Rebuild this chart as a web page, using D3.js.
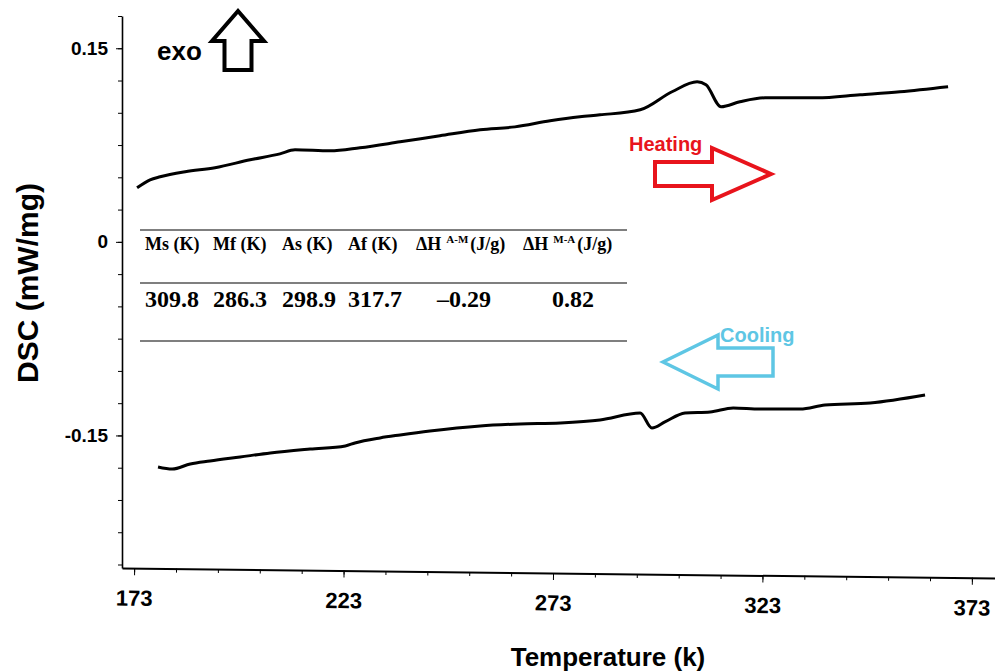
<!DOCTYPE html>
<html>
<head>
<meta charset="utf-8">
<script src="https://cdn.jsdelivr.net/npm/d3@7"></script>
<style>
  html, body { margin: 0; padding: 0; background: #fff; }
  svg { display: block; }
</style>
</head>
<body>
<div id="chart"></div>
<script>
// heating curve (upper)
const heatT = [173.7, 176.8, 179.2, 185.2, 192.3, 200.7, 207.8, 211.4, 219.8, 226.9, 236.5, 246.0, 255.6, 263.9, 272.3, 279.4, 284.2, 293.8, 301.4, 307.4, 309.5, 313.1, 317.6, 323.6, 336.0, 346.3, 355.8, 367.3];
const heatV = [0.0419, 0.0481, 0.0504, 0.0543, 0.0574, 0.0636, 0.0682, 0.0713, 0.0705, 0.0729, 0.0775, 0.0822, 0.0868, 0.0891, 0.0938, 0.0969, 0.0984, 0.1023, 0.1163, 0.1240, 0.1217, 0.1047, 0.1085, 0.1116, 0.1116, 0.1140, 0.1163, 0.1202];
// cooling curve (lower)
const coolT = [178.7, 182.1, 186.4, 191.1, 198.3, 205.5, 215.0, 223.4, 225.7, 231.7, 236.5, 243.6, 255.6, 265.1, 274.7, 284.2, 293.8, 296.6, 299.7, 304.5, 310.5, 316.0, 322.4, 332.0, 337.9, 348.7, 361.8];
const coolV = [-0.1744, -0.1760, -0.1721, -0.1698, -0.1667, -0.1636, -0.1605, -0.1581, -0.1558, -0.1519, -0.1496, -0.1465, -0.1426, -0.1411, -0.1403, -0.1380, -0.1326, -0.1442, -0.1395, -0.1326, -0.1318, -0.1287, -0.1295, -0.1295, -0.1264, -0.1248, -0.1186];

const xTicks = [173, 223, 273, 323, 373];
const xMinor = d3.range(173, 380, 10);
const yTicks = [0.15, 0, -0.15];
const yTickLabels = ["0.15", "0", "-0.15"];
const yMinor = d3.range(-0.25, 0.176, 0.025);

const tableHead = ["Ms (K)", "Mf (K)", "As (K)", "Af (K)", "ΔH|A-M|(J/g)", "ΔH|M-A|(J/g)"];
const tableVals = ["309.8", "286.3", "298.9", "317.7", "–0.29", "0.82"];

const W = 995, H = 672;
const sans = "Arial, 'Liberation Sans', sans-serif";
const narrow = "'Liberation Sans Narrow', 'Arial Narrow', Arial, sans-serif";
const serif = "'Liberation Serif', 'Times New Roman', serif";

const svg = d3.select('#chart').append('svg')
    .attr('width', W)
    .attr('height', H);

const x = d3.scaleLinear().domain([170.1, 378.5]).range([122, 995]);
const y = d3.scaleLinear().domain([-0.2527, 0.175]).range([568, 16]);

// y axis
const yAxisG = svg.append('g').attr('transform', 'translate(122,0)');
yAxisG.call(d3.axisLeft(y).tickValues(yMinor).tickSize(4).tickSizeOuter(0).tickFormat(''));
yAxisG.call(g => g.select('.domain').attr('stroke-width', 1.6));
const yMajor = svg.append('g').attr('transform', 'translate(122,0)')
    .call(d3.axisLeft(y).tickValues(yTicks).tickSize(6).tickSizeOuter(0)
        .tickFormat((d, i) => yTickLabels[i]));
yMajor.select('.domain').remove();
yMajor.selectAll('text')
    .attr('x', -14)
    .style('font-family', sans)
    .style('font-weight', 'bold')
    .style('font-size', '19px')
    .attr('fill', '#000');

// x axis (scan is slightly tilted)
const xg = svg.append('g').attr('transform', 'translate(0,568) rotate(0.66,122,0)');
xg.append('g').call(d3.axisBottom(x).tickValues(xMinor).tickSize(4).tickSizeOuter(0).tickFormat(''))
    .select('.domain').attr('stroke-width', 2);
const xMajor = xg.append('g').call(d3.axisBottom(x).tickValues(xTicks).tickSize(7).tickSizeOuter(0).tickFormat(d3.format('d')));
xMajor.select('.domain').remove();
xMajor.selectAll('text')
    .attr('y', 22)
    .style('font-family', narrow)
    .style('font-weight', 'bold')
    .style('font-size', '22px')
    .attr('fill', '#000');

// axis titles
svg.append('text')
    .attr('transform', 'translate(38,283) rotate(-90)')
    .attr('text-anchor', 'middle')
    .style('font-family', sans)
    .style('font-weight', 'bold')
    .style('font-size', '30px')
    .text('DSC (mW/mg)');

svg.append('text')
    .attr('x', 608)
    .attr('y', 666)
    .attr('text-anchor', 'middle')
    .style('font-family', sans)
    .style('font-weight', 'bold')
    .style('font-size', '26px')
    .text('Temperature (k)');

// curves
const line = d3.line()
    .x(d => x(d[0]))
    .y(d => y(d[1]))
    .curve(d3.curveMonotoneX);

svg.append('path')
    .datum(heatT.map((t, i) => [t, heatV[i]]))
    .attr('fill', 'none')
    .attr('stroke', '#000')
    .attr('stroke-width', 3)
    .attr('stroke-linejoin', 'round')
    .attr('d', line);

svg.append('path')
    .datum(coolT.map((t, i) => [t, coolV[i]]))
    .attr('fill', 'none')
    .attr('stroke', '#000')
    .attr('stroke-width', 3)
    .attr('stroke-linejoin', 'round')
    .attr('d', line);

// outline arrows
function arrowPoints(tip, angle, hl, sl, hh, sh) {
    const pts = [[0, 0], [-hl, -hh], [-hl, -sh], [-hl - sl, -sh], [-hl - sl, sh], [-hl, sh], [-hl, hh]];
    const a = angle * Math.PI / 180;
    return pts.map(([u, v]) => [tip[0] + u * Math.cos(a) - v * Math.sin(a), tip[1] + u * Math.sin(a) + v * Math.cos(a)]);
}
function drawArrow(pts, color, sw) {
    svg.append('path')
        .attr('d', 'M' + pts.map(p => p.join(',')).join('L') + 'Z')
        .attr('fill', 'none')
        .attr('stroke', color)
        .attr('stroke-width', sw)
        .attr('stroke-linejoin', 'miter');
}

drawArrow(arrowPoints([238, 11], -90, 30, 29, 26, 13.5), '#000', 4);
svg.append('text')
    .attr('x', 157).attr('y', 60)
    .style('font-family', sans).style('font-weight', 'bold').style('font-size', '26px')
    .text('exo');

drawArrow(arrowPoints([771, 174], 0, 59, 57, 26, 12), '#e8141c', 4);
svg.append('text')
    .attr('x', 629).attr('y', 151)
    .style('font-family', sans).style('font-weight', 'bold').style('font-size', '20px')
    .attr('fill', '#e8141c')
    .text('Heating');

drawArrow(arrowPoints([663, 362], 180, 55, 55, 27, 14), '#5ec6e4', 3.5);
svg.append('text')
    .attr('x', 720).attr('y', 342)
    .style('font-family', sans).style('font-weight', 'bold').style('font-size', '20px')
    .attr('fill', '#5ec6e4')
    .text('Cooling');

// table
const colX = [145, 213, 282, 348, 416, 523];
const valX = [145, 213, 282, 348, 437, 552];
[230, 283, 341].forEach(ly => {
    svg.append('line')
        .attr('x1', 140).attr('x2', 627)
        .attr('y1', ly).attr('y2', ly)
        .attr('stroke', '#555')
        .attr('stroke-width', 1.5);
});

tableHead.forEach((h, i) => {
    const t = svg.append('text')
        .attr('x', colX[i]).attr('y', 250)
        .style('font-family', serif).style('font-weight', 'bold').style('font-size', '18px');
    const parts = h.split('|');
    t.append('tspan').text(parts[0]);
    if (parts.length > 1) {
        t.append('tspan').attr('dx', 5).attr('dy', -7).style('font-size', '11px').text(parts[1]);
        t.append('tspan').attr('dx', 2).attr('dy', 7).text(parts[2]);
    }
});

tableVals.forEach((v, i) => {
    svg.append('text')
        .attr('x', valX[i]).attr('y', 307)
        .style('font-family', serif).style('font-weight', 'bold').style('font-size', '24px')
        .text(v);
});
</script>
</body>
</html>
